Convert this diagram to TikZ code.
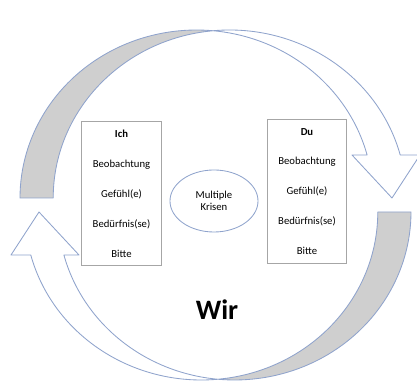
\documentclass[tikz,border=0pt]{standalone}
\usepackage{fontspec}
\setmainfont{Carlito}
\usetikzlibrary{shapes,arrows,positioning}
\definecolor{rim}{HTML}{8FA3CC}
\definecolor{back}{HTML}{CFCFCF}
\tikzstyle{box}=[rectangle,draw=gray!70,line width=0.7pt,align=center,minimum width=1.975cm,minimum height=3.575cm,inner sep=0pt,font=\fontsize{7.6}{9}\selectfont]
\tikzstyle{oval}=[ellipse,draw=rim,line width=0.6pt,align=center,minimum width=2.2cm,minimum height=1.55cm,inner sep=0pt,font=\fontsize{7.6}{9}\selectfont]
\tikzstyle{front}=[draw=rim,line width=0.6pt,fill=white,line join=round]
\tikzstyle{rear}=[draw=rim,line width=0.6pt,fill=back,line join=round]

\begin{document}
\begin{tikzpicture}[x=0.025cm,y=0.025cm]
\useasboundingbox (0,0) rectangle (417,381);
% two curved arrows, the lower one is the upper one turned round
\foreach \turn in {0,180}{
\begin{scope}[rotate around={\turn:(215.5,176)}]
\path[rear] (20,183) arc[start angle=180,end angle=84.6,x radius=176.5,y radius=168]
  arc[start angle=95.4,end angle=180,x radius=176.5,y radius=168] -- cycle;
\path[front] (213,350.25) arc[start angle=95.4,end angle=14.83,x radius=176.5,y radius=168]
  -- (420,226) -- (392,183) -- (352,226) -- (367.1,226)
  arc[start angle=14.83,end angle=84.6,x radius=176.5,y radius=168] -- cycle;
\end{scope}
}
\node[box] (I) at (121.5,187.5) {\textbf{Ich}\\[12.3pt]Beobachtung\\[12.3pt]Gefühl(e)\\[12.3pt]Bedürfnis(se)\\[12.3pt]Bitte};
\node[box] (D) at (307,189.5) {\textbf{Du}\\[12.3pt]Beobachtung\\[12.3pt]Gefühl(e)\\[12.3pt]Bedürfnis(se)\\[12.3pt]Bitte};
\node[oval] (K) at (214,180) {Multiple\\Krisen};
\node[font=\fontsize{20}{24}\selectfont\bfseries] (W) at (217,71) {Wir};
\end{tikzpicture}
\end{document}
